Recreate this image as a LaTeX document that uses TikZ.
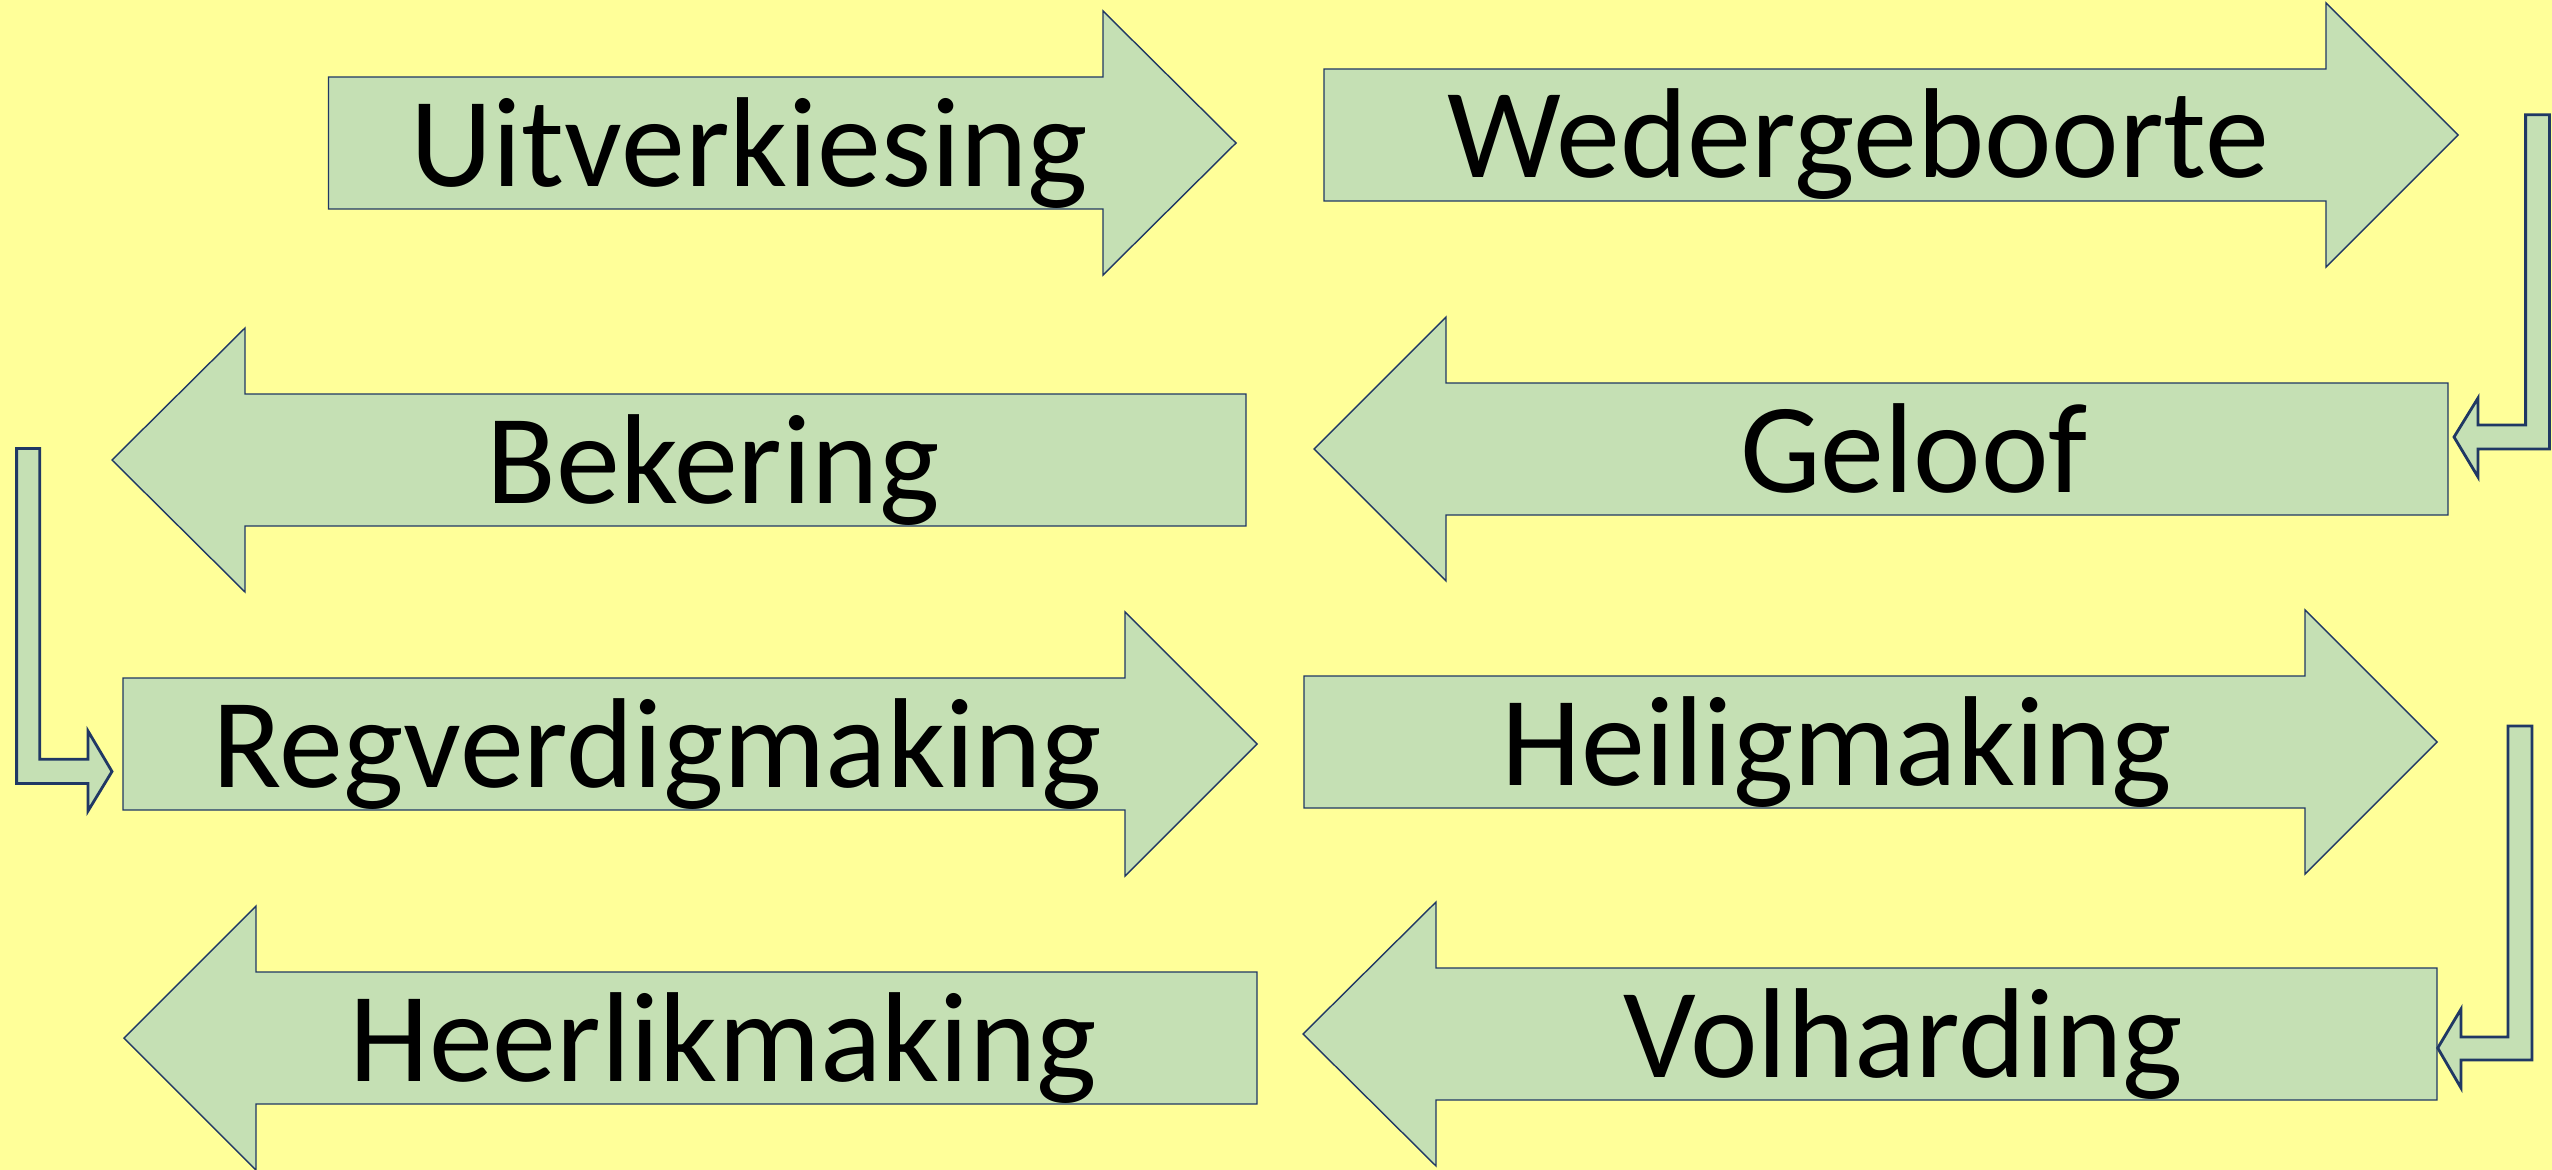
\documentclass[tikz,border=0pt]{standalone}
\usepackage{fontspec}
\setmainfont{Carlito}
\usepackage{xcolor}
\usepackage{tikz}

\definecolor{slideyellow}{RGB}{255,255,153}
\definecolor{stagegreen}{RGB}{197,224,180}
\definecolor{stageblue}{RGB}{32,56,100}

\begin{document}
\begin{tikzpicture}
[x=0.01cm, y=-0.01cm,
 stage/.style={fill=stagegreen,draw=stageblue,line width=0.4pt},
 turn/.style={fill=stagegreen,draw=stageblue,line width=0.8pt},
 word/.style={anchor=base,font=\fontsize{36.4}{40}\selectfont}];
\fill[slideyellow] (0, 0) rectangle (2552, 1170);
\useasboundingbox (0, 0) rectangle (2552, 1170);

% top row
\draw[stage] (328.5, 77) -- (1103, 77) -- (1103, 11) -- (1236, 143) -- (1103, 275) -- (1103, 209) -- (328.5, 209) -- cycle;
\draw(749, 186) node[word] (uitverkiesing) {Uitverkiesing};
\draw[stage] (1324, 69) -- (2326, 69) -- (2326, 3) -- (2458, 135) -- (2326, 267) -- (2326, 201) -- (1324, 201) -- cycle;
\draw(1858, 178) node[word] (wedergeboorte) {Wedergeboorte};

% second row
\draw[stage] (1246, 394) -- (245, 394) -- (245, 328) -- (112, 460) -- (245, 592) -- (245, 526) -- (1246, 526) -- cycle;
\draw(713, 503) node[word] (bekering) {Bekering};
\draw[stage] (2448, 383) -- (1446, 383) -- (1446, 317) -- (1314, 449) -- (1446, 581) -- (1446, 515) -- (2448, 515) -- cycle;
\draw(1914, 492) node[word] (geloof) {Geloof};
\coordinate (geloof-tail) at (2448, 449);

% third row
\draw[stage] (123, 678) -- (1125, 678) -- (1125, 612) -- (1257, 744) -- (1125, 876) -- (1125, 810) -- (123, 810) -- cycle;
\draw(657, 787) node[word] (regverdigmaking) {Regverdigmaking};
\coordinate (regverdigmaking-tail) at (123, 744);
\draw[stage] (1304, 676) -- (2305, 676) -- (2305, 610) -- (2437, 742) -- (2305, 874) -- (2305, 808) -- (1304, 808) -- cycle;
\draw(1837, 785) node[word] (heiligmaking) {Heiligmaking};

% bottom row
\draw[stage] (1257, 972) -- (256, 972) -- (256, 906) -- (124, 1038) -- (256, 1170) -- (256, 1104) -- (1257, 1104) -- cycle;
\draw(723, 1081) node[word] (heerlikmaking) {Heerlikmaking};
\draw[stage] (2437, 968) -- (1436, 968) -- (1436, 902) -- (1303, 1034) -- (1436, 1166) -- (1436, 1100) -- (2437, 1100) -- cycle;
\draw(1903, 1077) node[word] (volharding) {Volharding};
\coordinate (volharding-tail) at (2437, 1034);

% bent arrows
\draw[turn] (geloof-tail) ++(6, -12) -- ++(24, -39) -- ++(0, 27) -- ++(47.6, 0) -- ++(0, -310.2) -- ++(23.9, 0) -- ++(0, 334.2) -- ++(-71.5, 0) -- ++(0, 28) -- cycle;
\draw[turn] (regverdigmaking-tail) ++(-11, 27.5) -- ++(-24, -40.5) -- ++(0, 28.2) -- ++(-48.2, 0) -- ++(0, -310.7) -- ++(-23.2, 0) -- ++(0, 334.9) -- ++(71.4, 0) -- ++(0, 27.6) -- cycle;
\draw[turn] (volharding-tail) ++(0.7, 14) -- ++(23.3, -39) -- ++(0, 28) -- ++(47, 0) -- ++(0, -311) -- ++(24, 0) -- ++(0, 334) -- ++(-71, 0) -- ++(0, 28) -- cycle;
\end{tikzpicture}
\end{document}
